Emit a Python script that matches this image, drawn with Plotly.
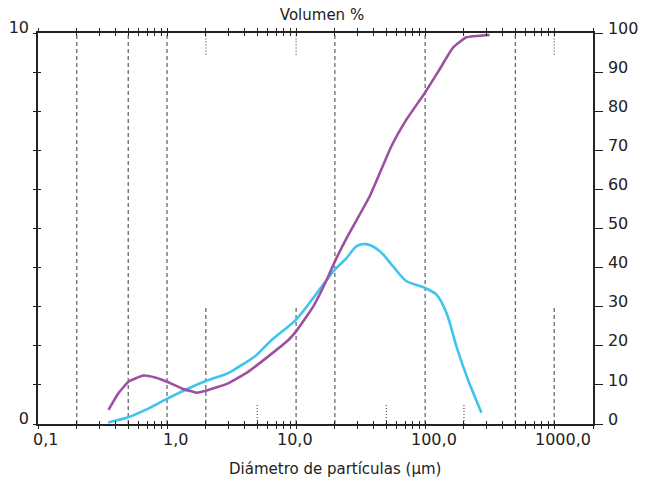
import math
import plotly.graph_objects as go

# ---------------- data ----------------
# Frequency curve (left axis, 0-10)
freq_diam = [0.35, 0.50, 0.68, 0.98, 1.38, 2.0, 2.98, 3.79, 4.81, 6.47, 10.0,
             17.3, 20.0, 24.7, 29.5, 35.0, 44.6, 56.5, 71.8, 96.6, 122.5,
             146.5, 175, 215, 273]
freq_vals = [0.04, 0.17, 0.36, 0.63, 0.87, 1.10, 1.30, 1.51, 1.73, 2.15, 2.67,
             3.69, 3.95, 4.25, 4.55, 4.60, 4.42, 4.03, 3.65, 3.50, 3.31,
             2.84, 1.98, 1.13, 0.29]

# Cumulative volume curve (right axis, 0-100 %)
cum_diam = [0.352, 0.421, 0.502, 0.656, 0.81, 1.0, 1.30, 1.70, 2.0, 2.98, 4.27,
            6.09, 8.71, 10.0, 13.6, 17.3, 20.0, 24.7, 37.3, 54.9, 71.8, 100,
            130, 165, 209, 316]
cum_vals = [3.6, 7.9, 10.8, 12.4, 11.9, 10.8, 9.1, 8.0, 8.5, 10.4, 13.4,
            17.3, 21.5, 23.7, 30.1, 36.9, 41.6, 47.6, 58.3, 71.1, 77.9, 84.8,
            90.8, 96.3, 98.9, 99.5]

# Axis ticks / labels
x_label_vals = [0.1, 1, 10, 100, 1000]
x_label_text = ["0,1", "1,0", "10,0", "100,0", "1000,0"]
x_minor_ticks = [m * 10 ** e for e in range(-1, 4) for m in range(1, 10)] + [2000]
x_range_max = 2000
left_ticks = list(range(0, 11))
left_text = ["0"] + [""] * 9 + ["10"]
right_ticks = list(range(0, 101, 10))

# Reference grid lines (diameters; heights in left-axis units)
grid_full = [0.2, 0.5, 1, 20, 100, 500]
grid_top_short = [2, 10, 1000]
grid_bottom_tall = [2, 10, 1000]
grid_bottom_small = [5, 50, 200]

# ---------------- figure ----------------
def segs(xs, y0, y1):
    X, Y = [], []
    for x in xs:
        X += [x, x, None]
        Y += [y0, y1, None]
    return X, Y

fig = go.Figure()
dash_style = dict(color="#3d3d3d", width=1, dash="4px,3px")
dot_style = dict(color="#333333", width=1, dash="1px,2px")

gx, gy = segs(grid_full, 0, 10)
fig.add_trace(go.Scatter(x=gx, y=gy, mode="lines", line=dash_style,
                         hoverinfo="skip", showlegend=False))
gx, gy = segs(grid_top_short, 9.45, 10)
fig.add_trace(go.Scatter(x=gx, y=gy, mode="lines", line=dot_style,
                         hoverinfo="skip", showlegend=False))
gx, gy = segs(grid_bottom_tall, 0, 3)
fig.add_trace(go.Scatter(x=gx, y=gy, mode="lines", line=dash_style,
                         hoverinfo="skip", showlegend=False))
gx, gy = segs(grid_bottom_small, 0, 0.5)
fig.add_trace(go.Scatter(x=gx, y=gy, mode="lines", line=dot_style,
                         hoverinfo="skip", showlegend=False))

fig.add_trace(go.Scatter(x=freq_diam, y=freq_vals, mode="lines",
                         line=dict(color="#3EC4EF", width=2.6, shape="spline", smoothing=0.8),
                         showlegend=False, xaxis="x", yaxis="y"))
fig.add_trace(go.Scatter(x=cum_diam, y=cum_vals, mode="lines",
                         line=dict(color="#9B51A0", width=2.6, shape="spline", smoothing=0.4),
                         showlegend=False, xaxis="x", yaxis="y2"))
# overlay axes carrying the inward half of the crossing ticks
fig.add_trace(go.Scatter(x=[1], y=[0], mode="markers", marker=dict(size=0, opacity=0),
                         hoverinfo="skip", showlegend=False, xaxis="x3", yaxis="y3"))

font_family = "DejaVu Sans"
text_color = "#222222"
xr = [-1, math.log10(x_range_max)]

fig.update_layout(
    width=653, height=484,
    margin=dict(l=38, r=60, t=33, b=60, autoexpand=False),
    paper_bgcolor="white", plot_bgcolor="white",
    font=dict(family=font_family, size=16, color=text_color),
    xaxis=dict(type="log", range=xr, showgrid=False, zeroline=False,
               showline=True, linecolor="#222222", linewidth=1.5,
               ticks="outside", ticklen=3, tickwidth=1, tickcolor="#222222",
               mirror="ticks", tickvals=x_minor_ticks, showticklabels=False),
    xaxis3=dict(type="log", range=xr, overlaying="x", anchor="y3", showgrid=False,
                zeroline=False, showline=False, ticks="inside", ticklen=3,
                tickwidth=1, tickcolor="#222222", mirror="ticks",
                tickvals=x_minor_ticks, showticklabels=False),
    yaxis=dict(range=[0, 10], showgrid=False, zeroline=False, showline=True,
               linecolor="#222222", linewidth=1.5, ticks="outside", ticklen=3,
               tickwidth=1, tickcolor="#222222", tickvals=left_ticks,
               ticktext=left_text, ticklabelshift=-6, ticklabelstandoff=1),
    yaxis3=dict(range=[0, 10], overlaying="y", anchor="x3", side="left",
                showgrid=False, zeroline=False, showline=False, ticks="inside",
                ticklen=3, tickwidth=1, tickcolor="#222222", tickvals=left_ticks,
                showticklabels=False),
    yaxis2=dict(range=[0, 100], overlaying="y", side="right", anchor="x",
                showgrid=False, zeroline=False, showline=True, linecolor="#222222",
                linewidth=1.5, ticks="outside", ticklen=8, tickwidth=1,
                tickcolor="#222222", tickvals=right_ticks, ticklabelshift=-5,
                ticklabelstandoff=2),
    title=dict(text="Volumen %", x=322 / 653, xanchor="center",
               y=1 - 15 / 484, yanchor="middle",
               font=dict(family=font_family, size=15, color=text_color)),
)

x_label_shift = [7, 8, -1, 9, 9]
for v, t, s in zip(x_label_vals, x_label_text, x_label_shift):
    fig.add_annotation(x=math.log10(v), y=0, xref="x", yref="paper",
                       text=t, showarrow=False, xanchor="center", yanchor="top",
                       xshift=s, yshift=-4,
                       font=dict(family=font_family, size=16, color=text_color))

fig.add_annotation(x=(335 - 38) / 555, y=-(469 - 424) / 391, xref="paper", yref="paper",
                   text="Diámetro de partículas (μm)", showarrow=False,
                   xanchor="center", yanchor="middle",
                   font=dict(family=font_family, size=15, color=text_color))

fig.write_html("out.html", config={"displayModeBar": False},
               post_script="document.body.style.margin='0px';")
